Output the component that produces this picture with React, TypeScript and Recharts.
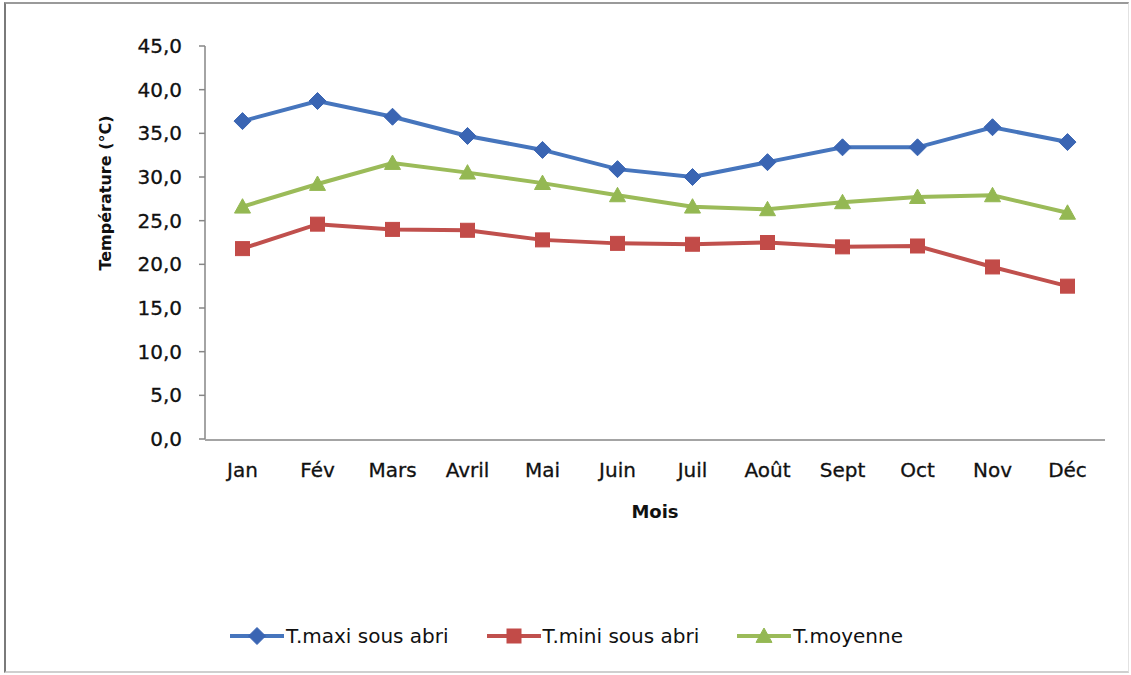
import React from 'react';
import { LineChart, Line, XAxis, YAxis, Legend, Label } from 'recharts';

const months = ['Jan', 'Fév', 'Mars', 'Avril', 'Mai', 'Juin', 'Juil', 'Août', 'Sept', 'Oct', 'Nov', 'Déc'];
const tMaxi = [36.4, 38.7, 36.9, 34.7, 33.1, 30.9, 30.0, 31.7, 33.4, 33.4, 35.7, 34.0];
const tMini = [21.8, 24.6, 24.0, 23.9, 22.8, 22.4, 22.3, 22.5, 22.0, 22.1, 19.7, 17.5];
const tMoy = [26.6, 29.2, 31.6, 30.5, 29.3, 27.9, 26.6, 26.3, 27.1, 27.7, 27.9, 25.9];
const yTicks = [0, 5, 10, 15, 20, 25, 30, 35, 40, 45];
const boundaryTicks = [0, 1, 2, 3, 4, 5, 6, 7, 8, 9, 10, 11, 12];
const seriesNames = { maxi: 'T.maxi sous abri', mini: 'T.mini sous abri', moy: 'T.moyenne' };

const data = months.map((m, i) => ({ month: m, maxi: tMaxi[i], mini: tMini[i], moy: tMoy[i] }));

const FONT = '"DejaVu Sans", sans-serif';
const BLUE = '#4675bd';
const BLUE_M = '#3a65b3';
const RED = '#c0504d';
const RED_M = '#c24b48';
const GREEN = '#9bbb59';
const GREEN_M = '#94b853';

const shapeFor: Record<string, string> = { maxi: 'diamond', mini: 'square', moy: 'triangle' };
const markerColor: Record<string, string> = { maxi: BLUE_M, mini: RED_M, moy: GREEN_M };

function Marker({ shape, cx, cy, color }: { shape: string; cx: number; cy: number; color: string }) {
  if (shape === 'diamond') {
    const r = 8.5;
    return <polygon points={`${cx},${cy - r} ${cx + r},${cy} ${cx},${cy + r} ${cx - r},${cy}`} fill={color} stroke={color} strokeWidth={1} />;
  }
  if (shape === 'square') {
    const r = 7;
    return <rect x={cx - r} y={cy - r} width={2 * r} height={2 * r} fill={color} stroke={color} strokeWidth={1} />;
  }
  const r = 8;
  return <polygon points={`${cx},${cy - r} ${cx + r},${cy + r * 0.8} ${cx - r},${cy + r * 0.8}`} fill={color} stroke={color} strokeWidth={1} />;
}

const makeDot = (key: string) => (props: any) => {
  const { cx, cy, index } = props;
  if (cx == null || cy == null) return <g key={`${key}-${index}`} />;
  return (
    <g key={`${key}-${index}`}>
      <Marker shape={shapeFor[key]} cx={cx} cy={cy} color={markerColor[key]} />
    </g>
  );
};

function LegendContent(props: any) {
  const { payload = [] } = props;
  return (
    <div style={{ display: 'flex', justifyContent: 'center', alignItems: 'center', paddingLeft: 2, fontFamily: FONT, fontSize: 20, color: '#111' }}>
      {payload.map((p: any, i: number) => {
        const key = p.dataKey as string;
        return (
          <div key={key} style={{ display: 'flex', alignItems: 'center', marginLeft: i === 0 ? 0 : 38 }}>
            <svg width={54} height={22} style={{ display: 'block' }}>
              <line x1={0} y1={11} x2={54} y2={11} stroke={p.color} strokeWidth={4} />
              <Marker shape={shapeFor[key]} cx={27} cy={11} color={markerColor[key]} />
            </svg>
            <span style={{ marginLeft: 2, whiteSpace: 'nowrap' }}>{p.value}</span>
          </div>
        );
      })}
    </div>
  );
}

const fmt = (v: number) => v.toFixed(1).replace('.', ',');

export default function App() {
  return (
    <div style={{ position: 'absolute', left: 0, top: 0, width: 1131, height: 675, background: '#fff' }}>
      <div
        style={{
          position: 'absolute',
          left: 4,
          top: 2,
          width: 1122,
          height: 667,
          borderLeft: '2px solid #7a7a7a',
          borderTop: '2px solid #9a9a9a',
          borderRight: '1px solid #e2e2e2',
          borderBottom: '2px solid #cfcfcf',
        }}
      />
      <div style={{ position: 'absolute', left: 0, top: 0 }}>
        <LineChart width={1131} height={675} data={data} margin={{ top: 46, right: 26, left: 0, bottom: 234 }}>
          <YAxis
            width={205}
            domain={[0, 45]}
            ticks={yTicks}
            tickFormatter={fmt}
            tickSize={6}
            tickMargin={17}
            interval={0}
            axisLine={{ stroke: '#868686', strokeWidth: 1.5 }}
            tickLine={{ stroke: '#868686', strokeWidth: 1.5 }}
            tick={{ fontFamily: FONT, fontSize: 20, fill: '#111', stroke: '#111', strokeWidth: 0.3 }}
          >
            <Label
              content={(p: any) => {
                const vb = p.viewBox || { x: 0, y: 46 };
                const x = vb.x + 105;
                const y = vb.y + 147;
                return (
                  <text x={x} y={y} transform={`rotate(-90 ${x} ${y})`} textAnchor="middle" dominantBaseline="central" fontFamily={FONT} fontSize={16} fontWeight="bold" fill="#111">
                    Température (°C)
                  </text>
                );
              }}
            />
          </YAxis>
          <XAxis
            xAxisId="ticks"
            type="number"
            domain={[0, 12]}
            ticks={boundaryTicks}
            allowDataOverflow
            height={1}
            tick={false}
            tickSize={6}
            axisLine={{ stroke: '#868686', strokeWidth: 1.5 }}
            tickLine={{ stroke: '#868686', strokeWidth: 1.5 }}
          />
          <XAxis
            xAxisId="cat"
            dataKey="month"
            height={1}
            interval={0}
            padding={{ left: 37.5, right: 37.5 }}
            axisLine={false}
            tickLine={false}
            tickSize={0}
            tickMargin={24}
            tick={{ fontFamily: FONT, fontSize: 20, fill: '#111', stroke: '#111', strokeWidth: 0.3 }}
          >
            <Label
              content={(p: any) => {
                const vb = p.viewBox || { x: 205, y: 440, width: 900 };
                const x = vb.x + vb.width / 2;
                const y = vb.y + 79;
                return (
                  <text x={x} y={y} textAnchor="middle" fontFamily={FONT} fontSize={18} fontWeight="bold" fill="#111">
                    Mois
                  </text>
                );
              }}
            />
          </XAxis>
          <Legend
            verticalAlign="middle"
            align="center"
            content={<LegendContent />}
            wrapperStyle={{ top: 624, left: 0, width: 1131, height: 26 }}
          />
          <Line xAxisId="cat" type="linear" dataKey="maxi" name={seriesNames.maxi} stroke={BLUE} strokeWidth={4} dot={makeDot('maxi')} activeDot={false} isAnimationActive={false} />
          <Line xAxisId="cat" type="linear" dataKey="mini" name={seriesNames.mini} stroke={RED} strokeWidth={4} dot={makeDot('mini')} activeDot={false} isAnimationActive={false} />
          <Line xAxisId="cat" type="linear" dataKey="moy" name={seriesNames.moy} stroke={GREEN} strokeWidth={4} dot={makeDot('moy')} activeDot={false} isAnimationActive={false} />
        </LineChart>
      </div>
    </div>
  );
}
